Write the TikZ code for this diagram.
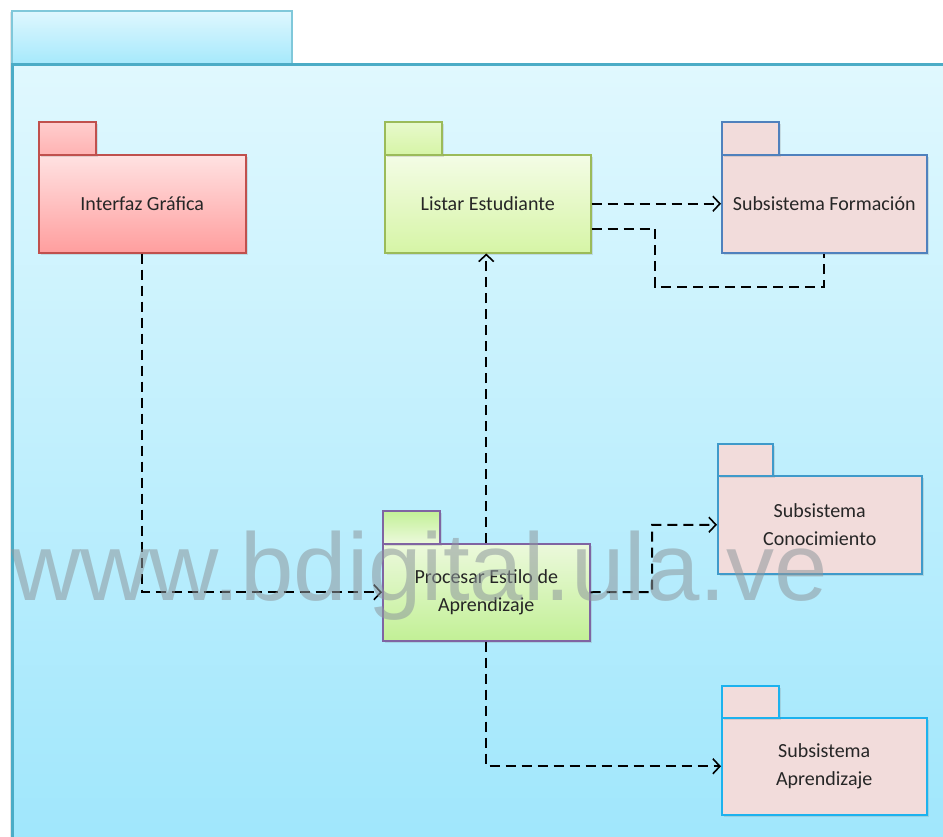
\documentclass[tikz,border=0pt]{standalone}
\usepackage{fontspec}
\setmainfont{Carlito}
\newfontfamily\wmfont{Liberation Sans}
\usetikzlibrary{arrows.meta,shadows}
\definecolor{bgtop}{HTML}{E0F8FE}
\definecolor{bgbot}{HTML}{9EE6FC}
\definecolor{bgline}{HTML}{4BACC6}
\definecolor{tabtop}{HTML}{DFF7FE}
\definecolor{tabbot}{HTML}{A6E9FC}
\definecolor{tabline}{HTML}{80C8DA}
\definecolor{redtop}{HTML}{FFE2E2}
\definecolor{redbot}{HTML}{FF9E9E}
\definecolor{redline}{HTML}{C0504D}
\definecolor{grtop}{HTML}{F4FCE6}
\definecolor{grbot}{HTML}{D6F5A6}
\definecolor{grline}{HTML}{9BBB59}
\definecolor{pgtop}{HTML}{ECF9DC}
\definecolor{pgbot}{HTML}{C2F096}
\definecolor{purline}{HTML}{8064A2}
\definecolor{rose}{HTML}{F2DCDB}
\definecolor{blueline}{HTML}{4F81BD}
\definecolor{cyanline}{HTML}{1CB2EE}
\definecolor{wmgray}{HTML}{8E989D}
\tikzset{
  pkg/.style={draw, line width=1.5pt, anchor=north west, inner sep=0pt,
    align=center, text=black!85, font=\fontsize{20}{27.5}\selectfont,
    drop shadow={opacity=0.22, shadow xshift=2pt, shadow yshift=-2pt}},
  tabbox/.style={draw, line width=1.5pt, anchor=north west, inner sep=0pt,
    minimum width=57pt, minimum height=33pt,
    drop shadow={opacity=0.22, shadow xshift=2pt, shadow yshift=-2pt}},
  dep/.style={draw=black, line width=2pt, dash pattern=on 10pt off 6pt},
  arr/.style={dep, -{Straight Barb[length=7pt,width=15pt,line width=1.6pt]}},
}
\begin{document}
\begin{tikzpicture}[x=1pt,y=-1pt]
\useasboundingbox (0,0) rectangle (943,836);
\clip (0,0) rectangle (943,836);
\fill[white] (0,0) rectangle (943,836);
% outer package
\node[draw=tabline, line width=1.5pt, anchor=north west, inner sep=0pt,
  minimum width=280pt, minimum height=53pt, top color=tabtop, bottom color=tabbot,
  drop shadow={opacity=0.2, shadow xshift=-2pt, shadow yshift=-1pt}] (otab) at (11,10) {};
\node[draw=bgline, line width=3pt, anchor=north west, inner sep=0pt,
  minimum width=960pt, minimum height=800pt, top color=bgtop, bottom color=bgbot,
  drop shadow={opacity=0.2, shadow xshift=-3pt, shadow yshift=0pt}] (obody) at (11,63) {};
% packages
\node[pkg, draw=redline, top color=redtop, bottom color=redbot,
  minimum width=207pt, minimum height=98pt] (IG) at (38,154) {Interfaz Gráfica};
\node[tabbox, draw=redline, top color=redtop!70!redbot, bottom color=redtop!30!redbot] (IGt) at (38,121) {};
\node[pkg, draw=grline, top color=grtop, bottom color=grbot,
  minimum width=206pt, minimum height=98pt] (LE) at (384,154) {Listar Estudiante};
\node[tabbox, draw=grline, top color=grtop!60!grbot, bottom color=grbot] (LEt) at (384,121) {};
\node[pkg, draw=blueline, fill=rose,
  minimum width=205pt, minimum height=98pt] (SF) at (721,154) {Subsistema Formación};
\node[tabbox, draw=blueline, fill=rose] (SFt) at (721,121) {};
\node[pkg, draw=blueline!80!cyan, fill=rose,
  minimum width=204pt, minimum height=98pt] (SC) at (717,475) {Subsistema\\Conocimiento};
\node[tabbox, draw=blueline!80!cyan, fill=rose, minimum width=55pt, minimum height=32pt] (SCt) at (717,443) {};
\node[pkg, draw=purline, top color=pgtop, bottom color=pgbot,
  minimum width=207pt, minimum height=97pt] (PE) at (382,543) {Procesar Estilo de\\Aprendizaje};
\node[tabbox, draw=purline, top color=pgbot, bottom color=pgtop, minimum height=33pt] (PEt) at (382,510) {};
\node[pkg, draw=cyanline, fill=rose,
  minimum width=205pt, minimum height=97pt] (SA) at (721,717) {Subsistema\\Aprendizaje};
\node[tabbox, draw=cyanline, fill=rose, minimum height=32pt] (SAt) at (721,685) {};
% connectors
\coordinate (c1) at (655,287);
\coordinate (c2) at (652,592);
\draw[arr] (IG.south) |- (PE.west);
\draw[arr] (PE.north) -- (PE.north |- LE.south);
\draw[arr] (LE.east) -- (SF.west);
\draw[dep] ([yshift=-25pt]LE.east) -| (c1) -| (SF.south);
\draw[arr] (PE.east) -- (c2) |- (SC.west);
\draw[arr] (PE.south) |- (SA.west);
% watermark
\node[anchor=base west, inner sep=0pt, font=\wmfont\fontsize{96}{96}\selectfont,
  text=wmgray, text opacity=0.55] (wm) at (11,600) {www.bdigital.ula.ve};
\end{tikzpicture}
\end{document}
